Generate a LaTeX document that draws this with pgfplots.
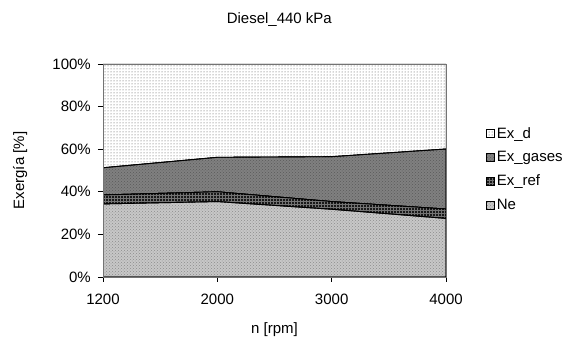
\documentclass[border=0pt]{standalone}
\usepackage{fontspec}
\setmainfont{Liberation Sans}
\usepackage{pgfplots}
\pgfplotsset{compat=1.18}
\usetikzlibrary{patterns}
\begin{document}
\fontsize{15}{18}\selectfont
\begin{tikzpicture}[x=1pt,y=1pt]
\useasboundingbox (0,0) rectangle (569,339);
\begin{axis}[
  at={(103pt,62pt)}, anchor=south west,
  scale only axis, width=343pt, height=213pt,
  xmin=0, xmax=3, ymin=0, ymax=100,
  xtick={0,1,2,3}, xticklabels={1200,2000,3000,4000},
  ytick={0,20,40,60,80,100},
  yticklabel={\pgfmathprintnumber{\tick}\%},
  /pgf/number format/assume math mode=true,
  tick align=outside, tick pos=left,
  major tick length=5pt,
  tick style={black, line width=0.8pt},
  axis line style={black!55, line width=0.8pt},
  every axis plot/.append style={line width=0.9pt},
  stack plots=y,
  area style,
  ticklabel style={font=\fontsize{15}{18}\selectfont},
  xticklabel style={yshift=-7pt},
  yticklabel style={xshift=-2pt},
  xlabel={n [rpm]}, ylabel={Exergía [\%]},
  label style={font=\fontsize{15}{18}\selectfont},
  xlabel style={yshift=-8pt},
  ylabel style={yshift=15pt},
  title={Diesel\_440 kPa},
  title style={font=\fontsize{15}{18}\selectfont, at={(0.514,1)}, yshift=26pt},
  legend style={at={(380pt,154pt)}, anchor=north west, draw=none, fill=none,
    font=\fontsize{15}{18}\selectfont, row sep=7pt,
    cells={anchor=west}},
  legend image code/.code={\draw[#1, line width=0.6pt, draw=black] (0pt,-4pt) rectangle (8pt,4pt);},
  reverse legend,
]
\addplot[draw=black, fill=black!22, postaction={pattern=crosshatch dots, pattern color=black!45}] coordinates {(0,34.3) (1,35.4) (2,31.8) (3,27.5)} \closedcycle;
\addlegendentry{Ne}
\addplot[draw=black, fill=black!90, postaction={pattern=grid, pattern color=black!55}] coordinates {(0,4.2) (1,4.6) (2,3.6) (3,4.4)} \closedcycle;
\addlegendentry{Ex\_ref}
\addplot[draw=black, fill=black!50, postaction={pattern=crosshatch dots, pattern color=black!65}] coordinates {(0,12.8) (1,16.2) (2,21.1) (3,28.2)} \closedcycle;
\addlegendentry{Ex\_gases}
\addplot[draw=black!60, line width=0.4pt, fill=white, postaction={pattern=dots, pattern color=black!70}] coordinates {(0,48.7) (1,43.8) (2,43.5) (3,39.9)} \closedcycle;
\addlegendentry{Ex\_d}
\end{axis}
\end{tikzpicture}
\end{document}
